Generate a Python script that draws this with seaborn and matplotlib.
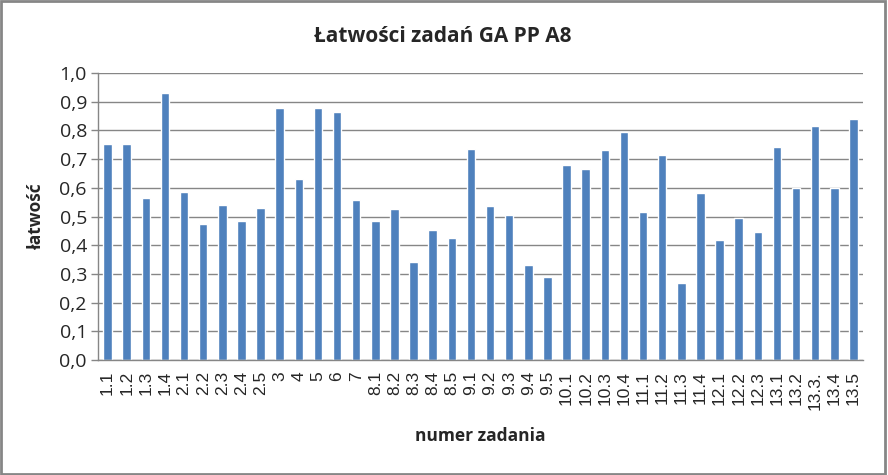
import matplotlib
matplotlib.use("Agg")
import matplotlib.pyplot as plt
import seaborn as sns
import pandas as pd
from matplotlib.patches import Rectangle

categories = ["1.1", "1.2", "1.3", "1.4", "2.1", "2.2", "2.3", "2.4", "2.5", "3",
              "4", "5", "6", "7", "8.1", "8.2", "8.3", "8.4", "8.5", "9.1",
              "9.2", "9.3", "9.4", "9.5", "10.1", "10.2", "10.3", "10.4", "11.1", "11.2",
              "11.3", "11.4", "12.1", "12.2", "12.3", "13.1", "13.2", "13.3.", "13.4", "13.5"]
values = [0.753, 0.753, 0.566, 0.929, 0.584, 0.475, 0.541, 0.486, 0.528, 0.877,
          0.629, 0.877, 0.863, 0.558, 0.485, 0.527, 0.340, 0.453, 0.425, 0.736,
          0.537, 0.506, 0.331, 0.289, 0.680, 0.666, 0.733, 0.795, 0.516, 0.715,
          0.269, 0.583, 0.419, 0.495, 0.446, 0.743, 0.598, 0.816, 0.600, 0.840]
y_ticks = [0.0, 0.1, 0.2, 0.3, 0.4, 0.5, 0.6, 0.7, 0.8, 0.9, 1.0]
y_tick_labels = ["0,0", "0,1", "0,2", "0,3", "0,4", "0,5", "0,6", "0,7", "0,8", "0,9", "1,0"]

sns.set_theme(style="white")
plt.rcParams['font.family'] = ['Open Sans', 'DejaVu Sans']

df = pd.DataFrame({"zadanie": categories, "latwosc": values})

fig = plt.figure(figsize=(8.88, 4.75), dpi=100)
ax = fig.add_axes([98/888, 1 - 360/475, (863 - 98)/888, (360 - 73)/475])

sns.barplot(data=df, x="zadanie", y="latwosc", color="#4F81BD", saturation=1,
            width=0.44, ax=ax, order=categories)

ax.set_ylim(0, 1.0)
ax.set_xlim(-0.5, len(categories) - 0.5)
ax.set_yticks(y_ticks)
ax.set_yticklabels(y_tick_labels, fontsize=14)
ax.set_xticks(range(len(categories)))
ax.set_xticklabels(categories, rotation=90, fontsize=12.5, family=['Liberation Sans', 'DejaVu Sans'])
ax.tick_params(axis='x', length=0, pad=8)
ax.tick_params(axis='y', length=5, color='#868686', width=1, pad=3, left=True)

ax.grid(axis='y', color='#868686', linewidth=1)
ax.set_axisbelow(True)
for s in ['top', 'right']:
    ax.spines[s].set_visible(False)
for s in ['left', 'bottom']:
    ax.spines[s].set_color('#868686')
    ax.spines[s].set_linewidth(1)

ax.set_xlabel("numer zadania", fontsize=12.5, fontweight='bold', labelpad=12)
ax.set_ylabel("łatwość", fontsize=12.5, fontweight='bold', labelpad=10)

fig.text(443/888, 1 - 36/475, "Łatwości zadań GA PP A8", ha='center', va='center',
         fontsize=15, fontweight='bold')

fig.patches.append(Rectangle((0.001, 0.002), 0.996, 0.996, transform=fig.transFigure,
                             fill=False, edgecolor='#868686', linewidth=2))

fig.savefig("out.png", dpi=100)
